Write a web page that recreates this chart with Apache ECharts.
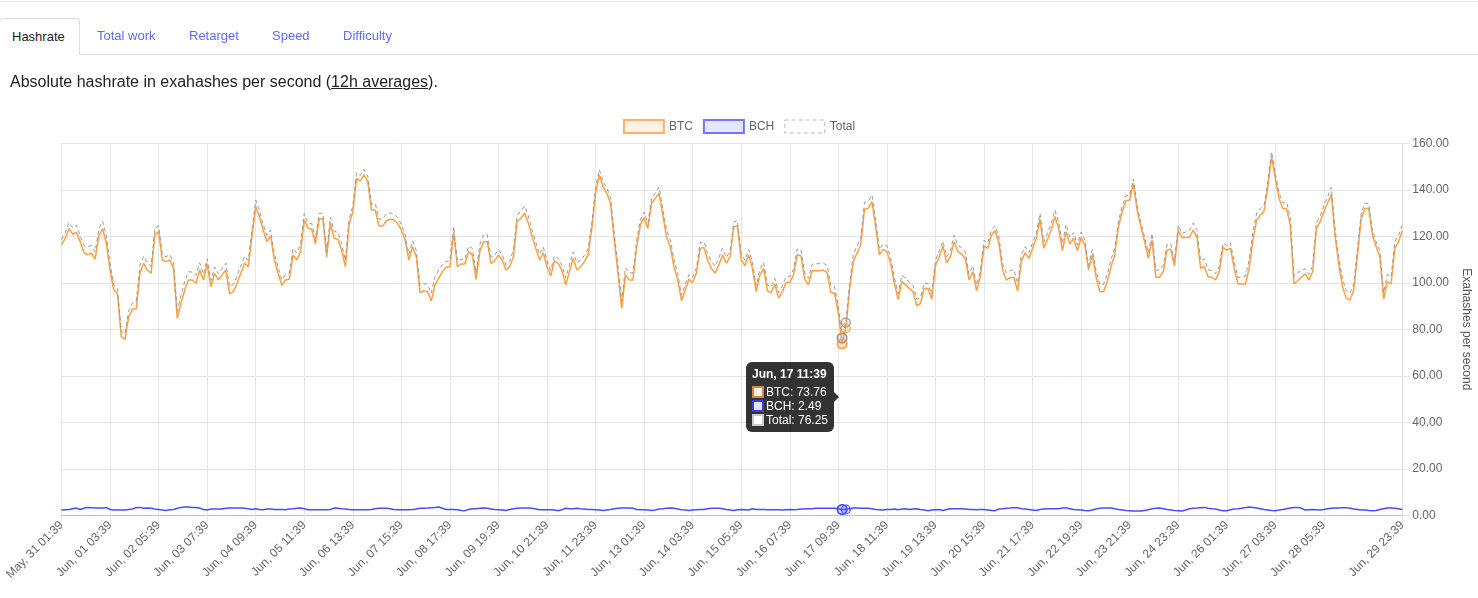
<!DOCTYPE html>
<html>
<head>
<meta charset="utf-8">
<script src="https://cdn.jsdelivr.net/npm/echarts@6/dist/echarts.min.js"></script>
<style>
html,body{margin:0;padding:0;width:1478px;height:598px;overflow:hidden;background:#fff;font-family:"Liberation Sans",Arial,sans-serif;}
#chart{position:absolute;left:0;top:0;width:1478px;height:598px;z-index:1;}
.hdr{position:absolute;z-index:2;}
.topline{left:0;top:1px;width:1478px;height:1px;background:#e6e6e6;}
.tabline{left:0;top:54px;width:1478px;height:1px;background:#dcdcdc;}
.tab{top:18px;height:36px;line-height:36px;font-size:13px;color:#5c6cf5;white-space:nowrap;}
.tab.active{left:-1px;width:79px;height:35px;line-height:35px;border:1px solid #dcdcdc;border-bottom:1px solid #fff;border-radius:4px 4px 0 0;background:#fff;color:#222;text-indent:12px;z-index:3;}
.desc{left:10px;top:72px;font-size:16px;color:#222;line-height:20px;white-space:nowrap;}
</style>
</head>
<body>
<div class="hdr topline"></div>
<div class="hdr tabline"></div>
<div class="hdr tab active">Hashrate</div>
<div class="hdr tab" style="left:97px">Total work</div>
<div class="hdr tab" style="left:189px">Retarget</div>
<div class="hdr tab" style="left:272px">Speed</div>
<div class="hdr tab" style="left:343px">Difficulty</div>
<div class="hdr desc">Absolute hashrate in exahashes per second (<u>12h averages</u>).</div>
<div id="chart"></div>
<script>
// ---- data ----
const days = ["May, 31","Jun, 01","Jun, 02","Jun, 03","Jun, 04","Jun, 05","Jun, 06","Jun, 07","Jun, 08","Jun, 09",
  "Jun, 10","Jun, 11","Jun, 12","Jun, 13","Jun, 14","Jun, 15","Jun, 16","Jun, 17","Jun, 18","Jun, 19",
  "Jun, 20","Jun, 21","Jun, 22","Jun, 23","Jun, 24","Jun, 25","Jun, 26","Jun, 27","Jun, 28","Jun, 29"];
const hours = ["01:39","03:39","05:39","07:39","09:39","11:39","13:39","15:39","17:39","19:39","21:39","23:39"];
const categories = days.flatMap(d => hours.map(h => d + " " + h));

const tickLabels = ["May, 31 01:39","Jun, 01 03:39","Jun, 02 05:39","Jun, 03 07:39","Jun, 04 09:39","Jun, 05 11:39",
  "Jun, 06 13:39","Jun, 07 15:39","Jun, 08 17:39","Jun, 09 19:39","Jun, 10 21:39","Jun, 11 23:39","Jun, 13 01:39",
  "Jun, 14 03:39","Jun, 15 05:39","Jun, 16 07:39","Jun, 17 09:39","Jun, 18 11:39","Jun, 19 13:39","Jun, 20 15:39",
  "Jun, 21 17:39","Jun, 22 19:39","Jun, 23 21:39","Jun, 24 23:39","Jun, 26 01:39","Jun, 27 03:39","Jun, 28 05:39",
  "Jun, 29 23:39"];

const yTicks = [0, 20, 40, 60, 80, 100, 120, 140, 160];

const btc = [
  116.3,119.1,123.4,120.9,121.7,117.7,113.0,112.0,112.7,110.2,
  120.0,123.4,117.0,105.5,96.9,95.2,76.8,75.7,85.4,88.7,
  88.7,104.1,108.4,105.5,104.1,120.6,122.0,109.8,109.1,109.8,
  106.2,84.7,91.2,96.9,101.2,101.2,99.8,105.5,101.2,108.1,
  98.3,104.1,101.2,103.4,105.5,95.2,96.2,99.8,104.1,108.4,
  106.9,120.0,132.8,128.5,122.7,117.7,120.0,109.8,104.1,98.8,
  101.2,101.5,112.0,109.8,113.4,127.0,123.4,123.0,116.7,127.5,
  127.5,111.0,125.7,119.1,118.7,114.1,106.9,124.9,130.6,144.9,
  143.8,146.4,143.5,131.3,131.3,124.4,124.4,126.7,127.3,127.0,
  125.6,122.7,118.4,109.8,115.5,111.2,95.8,96.6,96.2,92.2,
  99.1,101.9,104.8,106.7,106.9,121.7,106.9,108.1,108.1,113.4,
  112.0,101.5,113.4,117.7,117.7,108.4,109.4,112.0,109.8,105.5,
  106.9,111.2,126.3,127.7,129.9,125.6,119.8,114.8,109.8,112.9,
  106.9,102.9,109.4,108.4,105.2,99.1,104.8,110.5,105.5,106.9,
  109.1,112.0,123.4,138.5,146.4,141.4,138.5,134.2,118.4,104.1,
  89.0,103.4,101.2,101.2,115.5,124.9,128.0,123.4,134.2,136.3,
  138.5,129.1,119.8,115.5,106.9,101.2,92.3,96.9,101.5,100.1,
  104.1,114.8,115.2,109.8,106.2,104.1,107.7,112.0,108.4,111.2,
  124.1,124.4,109.8,107.3,112.0,106.2,96.2,103.4,106.2,96.6,
  95.8,99.5,93.4,96.2,100.1,100.1,103.4,112.0,111.6,101.5,
  99.1,105.2,105.2,105.2,105.5,104.4,95.8,95.5,86.9,73.76,
  80.4,96.9,109.1,112.7,116.3,131.6,132.0,134.9,124.1,112.0,
  114.4,113.4,108.4,99.8,92.9,100.5,99.1,97.6,96.2,90.1,
  91.2,97.6,97.6,92.9,107.3,111.2,115.8,108.7,111.2,117.7,
  113.4,112.3,110.5,101.2,104.8,96.6,102.5,115.8,114.8,120.6,
  122.4,117.0,105.2,101.2,102.2,102.4,96.5,109.1,112.9,110.5,
  114.8,119.1,127.3,114.8,118.7,122.7,128.5,123.4,113.8,122.0,
  116.7,119.1,113.8,119.5,116.3,105.5,112.0,102.6,96.2,96.2,
  100.5,106.9,112.0,124.1,130.6,135.3,135.6,142.8,131.3,124.1,
  117.7,110.5,118.4,102.4,102.4,104.8,114.1,114.4,107.3,122.7,
  119.5,119.5,119.5,122.7,119.8,106.2,106.9,102.6,102.4,101.2,
  104.8,115.2,114.1,114.8,106.2,99.5,99.5,99.5,106.2,118.4,
  127.0,129.1,131.0,141.4,154.3,144.9,136.3,132.0,132.0,124.9,
  99.5,100.9,102.4,103.8,101.2,104.8,123.4,126.3,130.6,134.2,
  138.1,120.0,107.7,98.3,93.3,92.6,96.9,112.0,127.7,132.0,
  132.0,120.6,115.5,111.2,92.9,100.5,99.5,114.8,117.7,122.4
];

const bch = [
  2.3,2.4,2.5,2.8,3.1,2.5,3.0,3.4,3.3,3.1,
  3.1,3.1,3.3,2.5,2.3,2.3,2.3,2.3,2.5,2.7,
  3.3,3.4,3.0,3.1,3.0,2.7,2.5,2.3,2.1,2.4,
  2.5,3.0,3.4,3.6,3.6,3.4,3.4,3.1,2.5,2.3,
  2.7,2.7,2.7,2.7,3.0,3.1,3.1,3.1,3.1,3.0,
  2.8,2.5,2.8,2.5,2.4,2.7,2.7,2.5,2.5,2.5,
  2.4,2.7,2.8,3.0,3.1,2.8,2.4,2.4,2.4,2.4,
  2.4,2.4,2.5,3.1,3.0,2.8,2.7,2.5,2.4,2.4,
  2.4,2.4,2.4,2.5,2.8,3.0,3.0,3.0,2.8,2.5,
  2.4,2.4,2.4,2.4,2.5,2.7,3.0,3.0,3.1,3.3,
  3.4,3.6,3.0,2.5,2.5,2.5,2.4,2.1,2.0,2.5,
  2.8,2.8,3.0,3.1,3.0,2.7,2.5,2.4,2.3,2.1,
  2.5,2.8,3.0,3.1,3.1,3.1,3.0,2.7,2.4,2.4,
  2.4,2.4,2.3,2.0,2.4,3.0,2.8,2.8,3.0,2.8,
  2.7,2.5,2.5,2.4,2.3,2.1,2.3,2.5,2.8,3.0,
  3.1,3.1,3.1,3.0,2.5,2.4,2.4,2.3,2.1,2.3,
  2.7,2.8,3.0,3.1,3.0,2.7,2.4,2.3,2.1,2.3,
  2.4,2.5,2.5,2.8,3.0,3.0,3.0,2.8,2.5,2.3,
  2.1,2.4,2.5,2.4,2.3,2.8,2.5,2.5,2.5,2.4,
  2.4,2.4,2.4,2.3,2.4,2.5,2.4,2.5,2.7,2.7,
  2.8,2.8,3.0,3.0,3.0,3.0,3.0,3.0,2.8,2.49,
  2.5,2.8,3.1,3.1,3.0,3.0,3.0,2.8,2.5,2.4,
  2.3,2.5,2.5,2.7,2.4,2.7,2.8,2.5,2.7,2.8,
  2.5,2.3,2.0,2.3,2.4,2.5,2.1,2.5,2.8,2.8,
  2.8,2.8,2.7,2.5,2.5,2.4,2.5,2.5,2.3,2.1,
  2.0,2.7,2.8,3.0,3.1,3.3,3.3,2.8,2.7,2.5,
  2.3,2.1,2.5,2.7,2.8,2.8,2.8,2.8,3.1,3.1,
  2.8,2.5,2.4,2.3,2.1,2.0,2.3,2.7,3.0,3.1,
  3.1,3.1,2.8,2.5,2.3,2.1,2.0,1.85,1.85,1.85,
  2.1,2.4,2.8,3.0,3.1,2.8,2.5,2.3,2.1,2.0,
  1.85,2.3,2.8,3.0,3.1,3.3,3.4,3.0,2.8,2.7,
  2.3,2.0,2.0,2.4,2.7,2.8,3.0,3.3,3.6,3.4,
  3.1,2.8,2.5,2.3,2.1,2.0,2.3,2.5,2.8,3.1,
  3.4,3.4,3.0,2.3,2.4,2.5,2.4,2.3,2.5,2.8,
  3.0,3.1,3.1,3.3,3.3,3.0,2.7,2.5,2.3,2.3,
  2.1,2.0,2.1,2.5,2.8,3.1,3.1,3.0,2.8,2.5
];

// Total is by definition the sum of the two chains
const total = btc.map((v, i) => Math.round((v + bch[i]) * 100) / 100);

const hoverIndices = [209, 210];
const tooltipIndex = 209;

// ---- chart ----
const FONT = '"Liberation Sans", Arial, sans-serif';
const chart = echarts.init(document.getElementById('chart'), null, {renderer: 'canvas'});
const showTick = (idx, value) => tickLabels.indexOf(value) >= 0;

const colors = {
  BTC: {line: '#ff9f40', fill: 'rgba(255,159,64,0.16)', sq: '#fff1e3', sqb: '#d08a45'},
  BCH: {line: '#4a4aff', fill: 'rgba(80,80,255,0.14)', sq: '#e3e3ff', sqb: '#3a3ae0'},
  Total: {line: '#999999', fill: 'rgba(200,200,200,0.2)', sq: '#ffffff', sqb: '#cccccc'}
};

function markPts(name, arr) {
  return {
    silent: true, animation: false, symbol: 'circle', symbolSize: 9,
    label: {show: false},
    itemStyle: {color: colors[name].fill, borderColor: colors[name].line, borderWidth: 1.2},
    data: hoverIndices.map(i => ({coord: [categories[i], arr[i]]}))
  };
}

function lineSeries(name, arr, extraLine) {
  return {
    name: name, type: 'line', data: arr, showSymbol: false, symbol: 'circle', symbolSize: 9,
    smooth: false, animation: false,
    emphasis: {disabled: true},
    itemStyle: {color: colors[name].fill, borderColor: colors[name].line, borderWidth: 1.2},
    lineStyle: Object.assign({color: colors[name].line, width: 1.5}, extraLine || {}),
    markPoint: markPts(name, arr)
  };
}

const option = {
  animation: false,
  textStyle: {fontFamily: FONT},
  grid: {left: 61.5, right: 75.7, top: 143.3, bottom: 82.7, containLabel: false, outerBoundsMode: 'none'},
  legend: {
    top: 114, left: 'center', icon: 'rect', itemWidth: 40, itemHeight: 13, itemGap: 10,
    selectedMode: false,
    textStyle: {color: '#666', fontSize: 12, fontFamily: FONT},
    data: [
      {name: 'BTC', itemStyle: {color: '#fff2e5', borderColor: '#ffb060', borderWidth: 2}},
      {name: 'BCH', itemStyle: {color: '#e6e6ff', borderColor: '#7373ff', borderWidth: 2}},
      {name: 'Total', itemStyle: {color: '#ffffff', borderColor: '#bbbbbb', borderWidth: 1, borderType: [4, 3]}}
    ]
  },
  tooltip: {
    trigger: 'axis',
    axisPointer: {type: 'none'},
    alwaysShowContent: true,
    transitionDuration: 0,
    backgroundColor: 'transparent',
    borderWidth: 0,
    padding: 0,
    extraCssText: 'box-shadow:none;',
    formatter: function (params) {
      const i = params[0].dataIndex;
      const rows = [['BTC', btc[i]], ['BCH', bch[i]], ['Total', total[i]]];
      let html = '<div style="position:relative;background:rgba(0,0,0,0.8);border-radius:6px;padding:6px;color:#fff;font-family:' +
        "'Liberation Sans',Arial,sans-serif" + ';font-size:12px;">';
      html += '<div style="font-weight:bold;line-height:12px;height:12px;margin-bottom:6px;">' + categories[i] + '</div>';
      rows.forEach(function (r, k) {
        const c = colors[r[0]];
        html += '<div style="line-height:12px;height:12px;' + (k > 0 ? 'margin-top:2px;' : '') + '">' +
          '<span style="display:inline-block;vertical-align:top;box-sizing:border-box;width:12px;height:12px;border:2px solid ' + c.sqb +
          ';background:' + c.sq + ';margin-right:2px;"></span>' + r[0] + ': ' + r[1].toFixed(2) + '</div>';
      });
      html += '<div style="position:absolute;right:-5px;top:50%;margin-top:-5px;width:0;height:0;border-top:5px solid transparent;border-bottom:5px solid transparent;border-left:5px solid rgba(0,0,0,0.8);"></div>';
      html += '</div>';
      return html;
    },
    position: function (point, params, dom, rect, size) {
      const i = params[0].dataIndex;
      const p1 = chart.convertToPixel({gridIndex: 0}, [i, btc[i]]);
      const p2 = chart.convertToPixel({gridIndex: 0}, [i, bch[i]]);
      const p3 = chart.convertToPixel({gridIndex: 0}, [i, total[i]]);
      const avgY = (p1[1] + p2[1] + p3[1]) / 3;
      const w = size.contentSize[0], h = size.contentSize[1];
      return [p1[0] - 8 - w, avgY - h / 2];
    }
  },
  xAxis: {
    type: 'category', data: categories, boundaryGap: false,
    axisLine: {show: true, lineStyle: {color: '#bfbfbf', width: 1}},
    axisTick: {show: true, interval: showTick, length: 7, lineStyle: {color: '#e5e5e5'}},
    axisLabel: {interval: showTick, rotate: 45, color: '#666', fontSize: 12, fontFamily: FONT, margin: 8,
      showMaxLabel: true, showMinLabel: true},
    splitLine: {show: true, interval: showTick, lineStyle: {color: '#e5e5e5', width: 1}}
  },
  yAxis: {
    type: 'value', position: 'right', min: yTicks[0], max: yTicks[yTicks.length - 1], interval: 20,
    name: 'Exahashes per second', nameLocation: 'middle', nameRotate: -90, nameGap: 58,
    nameTextStyle: {color: '#555', fontSize: 12, fontFamily: FONT},
    axisLine: {show: true, lineStyle: {color: '#dcdcdc'}},
    axisTick: {show: true, length: 8, lineStyle: {color: '#e5e5e5'}},
    axisLabel: {color: '#666', fontSize: 12, fontFamily: FONT, margin: 10, formatter: v => v.toFixed(2)},
    splitLine: {show: true, lineStyle: {color: '#e5e5e5', width: 1}}
  },
  series: [
    lineSeries('BTC', btc),
    lineSeries('BCH', bch),
    lineSeries('Total', total, {width: 1, type: [4, 3]})
  ]
};

chart.setOption(option);
chart.dispatchAction({type: 'showTip', seriesIndex: 0, dataIndex: tooltipIndex});
</script>
</body>
</html>
